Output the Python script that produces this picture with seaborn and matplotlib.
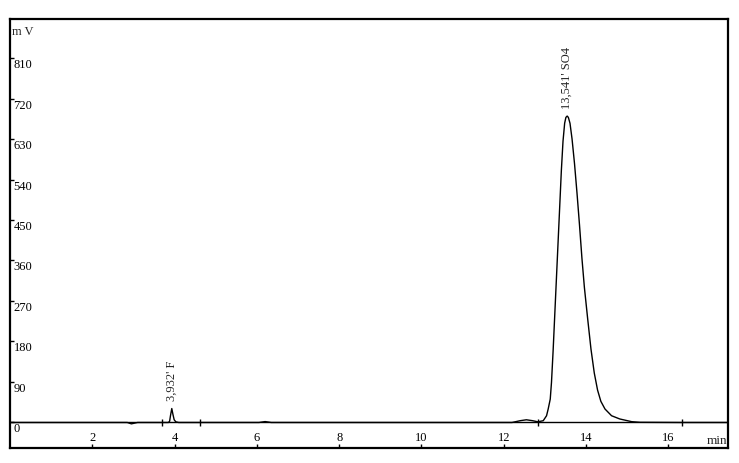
import matplotlib
matplotlib.use("Agg")
import matplotlib.pyplot as plt
import seaborn as sns
import pandas as pd

# ---- data ----
time_min = [0.0, 2.85, 2.95, 3.0, 3.1, 3.85, 3.88, 3.90, 3.932, 3.96, 3.99, 4.03, 4.10,
            6.05, 6.2, 6.35, 12.2, 12.4, 12.55, 12.7, 12.83,
            12.96, 13.04, 13.08, 13.13, 13.16, 13.20, 13.24, 13.28, 13.32, 13.36,
            13.40, 13.44, 13.48, 13.51, 13.541, 13.57, 13.61, 13.66, 13.72, 13.78,
            13.84, 13.90, 13.96, 14.04, 14.12, 14.20, 14.28, 14.36, 14.46, 14.62,
            14.82, 15.11, 15.31, 16.3, 17.45]
signal_mv = [0, 0, -3, -2, 0, 0, 3, 15, 31, 18, 6, 1.5, 0,
             0, 2, 0, 0, 4, 6, 4, 1.5,
             4, 15, 30, 52, 89, 160, 240, 320, 400, 480,
             560, 625, 665, 678, 681, 678, 665, 630, 575, 510,
             440, 365, 300, 230, 163, 110, 72, 47, 30, 15,
             7.8, 1.8, 0.4, 0, 0]

peak_times = [3.932, 13.541]
peak_heights = [31, 681]
peak_labels = ["3,932' F", "13,541' SO4"]

integration_marks = [3.70, 4.62, 12.84, 16.33]

x_ticks = [2, 4, 6, 8, 10, 12, 14, 16]
y_ticks = [0, 90, 180, 270, 360, 450, 540, 630, 720, 810]

# ---- plotting ----
sns.set_style("white")
plt.rcParams["font.family"] = ["Liberation Serif", "DejaVu Serif"]

fig = plt.figure(figsize=(7.39, 4.64), dpi=100)
ax = fig.add_axes([10 / 739, 15 / 464, 718 / 739, 429 / 464])

df = pd.DataFrame({"t": time_min, "mV": signal_mv})
sns.lineplot(data=df, x="t", y="mV", ax=ax, color="black", linewidth=1.0,
             estimator=None, sort=False)

# baseline
ax.axhline(0, color="black", linewidth=1.0, zorder=1)
# integration marks
ax.vlines(integration_marks, -7, 7, color="black", linewidth=1.0)

for t, h, lab in zip(peak_times, peak_heights, peak_labels):
    ax.annotate(lab, xy=(t, h), xytext=(0, 6), textcoords="offset points",
                rotation=90, ha="center", va="bottom", fontsize=9)

ax.set_xlim(0, 17.45)
ax.set_ylim(-56.7, 896.7)
ax.set_xticks(x_ticks)
ax.set_xticklabels([str(v) for v in x_ticks])
ax.set_yticks(y_ticks)
ax.set_yticklabels([str(v) for v in y_ticks])
ax.set_xlabel("")
ax.set_ylabel("")

ax.tick_params(axis="x", direction="in", length=3, width=1, pad=-12,
               labelsize=9, bottom=True, colors="black")
ax.tick_params(axis="y", direction="in", length=3, width=1, pad=-2.5,
               labelsize=9, left=True, colors="black")
for lab in ax.get_yticklabels():
    lab.set_horizontalalignment("left")
    lab.set_verticalalignment("top")

for s in ax.spines.values():
    s.set_visible(True)
    s.set_color("black")
    s.set_linewidth(1.6)

ax.text(0.003, 0.985, "m V", transform=ax.transAxes, ha="left", va="top",
        fontsize=9)
ax.text(0.999, 0.004, "min", transform=ax.transAxes, ha="right", va="bottom",
        fontsize=9.5)

fig.savefig("out.png", dpi=100)
